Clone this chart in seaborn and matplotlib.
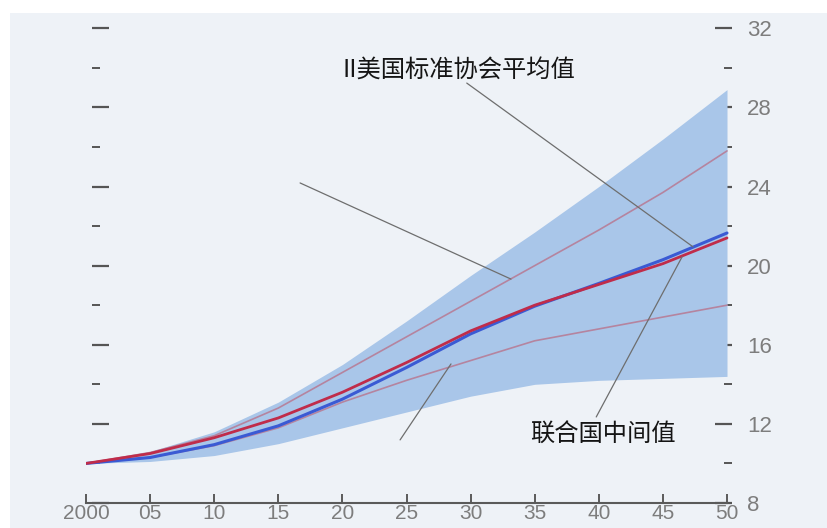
import matplotlib
matplotlib.use("Agg")
import matplotlib.pyplot as plt
import seaborn as sns
import pandas as pd
from matplotlib.patches import Rectangle
from matplotlib.ticker import MultipleLocator

# Projection years and series values
years = [2000, 2005, 2010, 2015, 2020, 2025, 2030, 2035, 2040, 2045, 2050]
year_labels = ["2000", "05", "10", "15", "20", "25", "30", "35", "40", "45", "50"]

band_high = [10.0, 10.6, 11.6, 13.1, 15.0, 17.2, 19.5, 21.7, 24.0, 26.4, 28.9]
band_low = [10.0, 10.1, 10.4, 11.0, 11.8, 12.6, 13.4, 14.0, 14.2, 14.3, 14.4]
upper_path = [10.0, 10.55, 11.4, 12.8, 14.6, 16.4, 18.2, 20.0, 21.8, 23.7, 25.8]
lower_path = [10.0, 10.3, 10.9, 11.8, 13.1, 14.2, 15.2, 16.2, 16.8, 17.4, 18.0]
un_median = [10.0, 10.5, 11.3, 12.3, 13.6, 15.1, 16.7, 18.0, 19.05, 20.1, 21.4]
asa_mean = [10.0, 10.3, 10.95, 11.9, 13.25, 14.85, 16.55, 17.95, 19.1, 20.3, 21.65]

y_ticks = [8, 12, 16, 20, 24, 28, 32]

label_asa = "II美国标准协会平均值"
label_un = "联合国中间值"

df = pd.DataFrame({
    "year": years,
    "band_high": band_high,
    "band_low": band_low,
    "upper": upper_path,
    "lower": lower_path,
    "un": un_median,
    "asa": asa_mean,
})

sns.set_theme(style="white")
plt.rcParams["font.family"] = ["Liberation Sans", "DejaVu Sans"]

W, H = 828, 528
fig = plt.figure(figsize=(W / 100, H / 100), dpi=100, facecolor="white")

# page tone behind the chart
fig.patches.append(Rectangle((10 / W, 0), 1 - 10 / W, 1 - 13 / H,
                             transform=fig.transFigure, facecolor="#eef2f7",
                             edgecolor="none", zorder=-10))

px_per_year = 12.82
left_px, right_px = 86, 732
bottom_px = 503
px_per_unit = 19.78
y_top = 33.0
ax = fig.add_axes([left_px / W, (H - bottom_px) / H,
                   (right_px - left_px) / W, (y_top - 8) * px_per_unit / H])
ax.set_facecolor("none")
ax.set_zorder(1)

ax.fill_between(df["year"], df["band_low"], df["band_high"],
                color="#a9c6e9", linewidth=0, zorder=1)

sns.lineplot(data=df, x="year", y="upper", ax=ax, color="#b5849f",
             linewidth=1.2, zorder=2)
sns.lineplot(data=df, x="year", y="lower", ax=ax, color="#b5849f",
             linewidth=1.2, zorder=2)
sns.lineplot(data=df, x="year", y="asa", ax=ax, color="#3a5ad4",
             linewidth=2.2, zorder=3)
sns.lineplot(data=df, x="year", y="un", ax=ax, color="#c02c4a",
             linewidth=2.0, zorder=4)

ax.set_xlim(2000, 2000 + (right_px - left_px) / px_per_year)
ax.set_ylim(8, y_top)
ax.set_xlabel("")
ax.set_ylabel("")

# leader lines
leader_kw = dict(color="#6e6e6e", linewidth=0.9, zorder=5)
ax.plot([2029.7, 2047.35], [29.23, 20.95], **leader_kw)
ax.plot([2016.7, 2033.15], [24.18, 19.32], **leader_kw)
ax.plot([2024.5, 2028.47], [11.19, 15.03], **leader_kw)
ax.plot([2039.8, 2046.5], [12.35, 20.45], **leader_kw)

cjk = ["Noto Sans CJK SC", "DejaVu Sans"]
ax.text(2029.1, 29.84, label_asa, family=cjk, fontsize=17.5, color="#151515",
        ha="center", va="center", zorder=6)
ax.text(2040.3, 11.44, label_un, family=cjk, fontsize=17.5, color="#151515",
        ha="center", va="center", zorder=6)

# spines
for side in ["top", "right"]:
    ax.spines[side].set_visible(False)
ax.spines["left"].set_color("none")
ax.spines["left"].set_position(("outward", -4.3))
ax.spines["bottom"].set_color("#5a5a5a")
ax.spines["bottom"].set_linewidth(1.5)
ax.spines["bottom"].set_bounds(2000, 2050)

# x axis ticks
ax.set_xticks(years)
ax.set_xticklabels(year_labels)
ax.tick_params(axis="x", bottom=True, direction="in", length=6.5, width=1.4,
               color="#5a5a5a", labelsize=15, labelcolor="#7d7d7d", pad=1)

# y axis ticks on both sides, labels on the right
ax.set_yticks(y_ticks)
ax.yaxis.set_minor_locator(MultipleLocator(2))
ax.yaxis.set_ticks_position("both")
ax.tick_params(axis="y", which="both", direction="in", left=True, right=True,
               labelleft=False, labelright=True, color="#555555")
ax.tick_params(axis="y", which="major", length=12, width=1.6,
               labelsize=16, labelcolor="#7d7d7d", pad=11)
ax.tick_params(axis="y", which="minor", length=6, width=1.4)
ax.spines["right"].set_visible(True)
ax.spines["right"].set_color("none")

fig.savefig("out.png", dpi=100, facecolor="white")
